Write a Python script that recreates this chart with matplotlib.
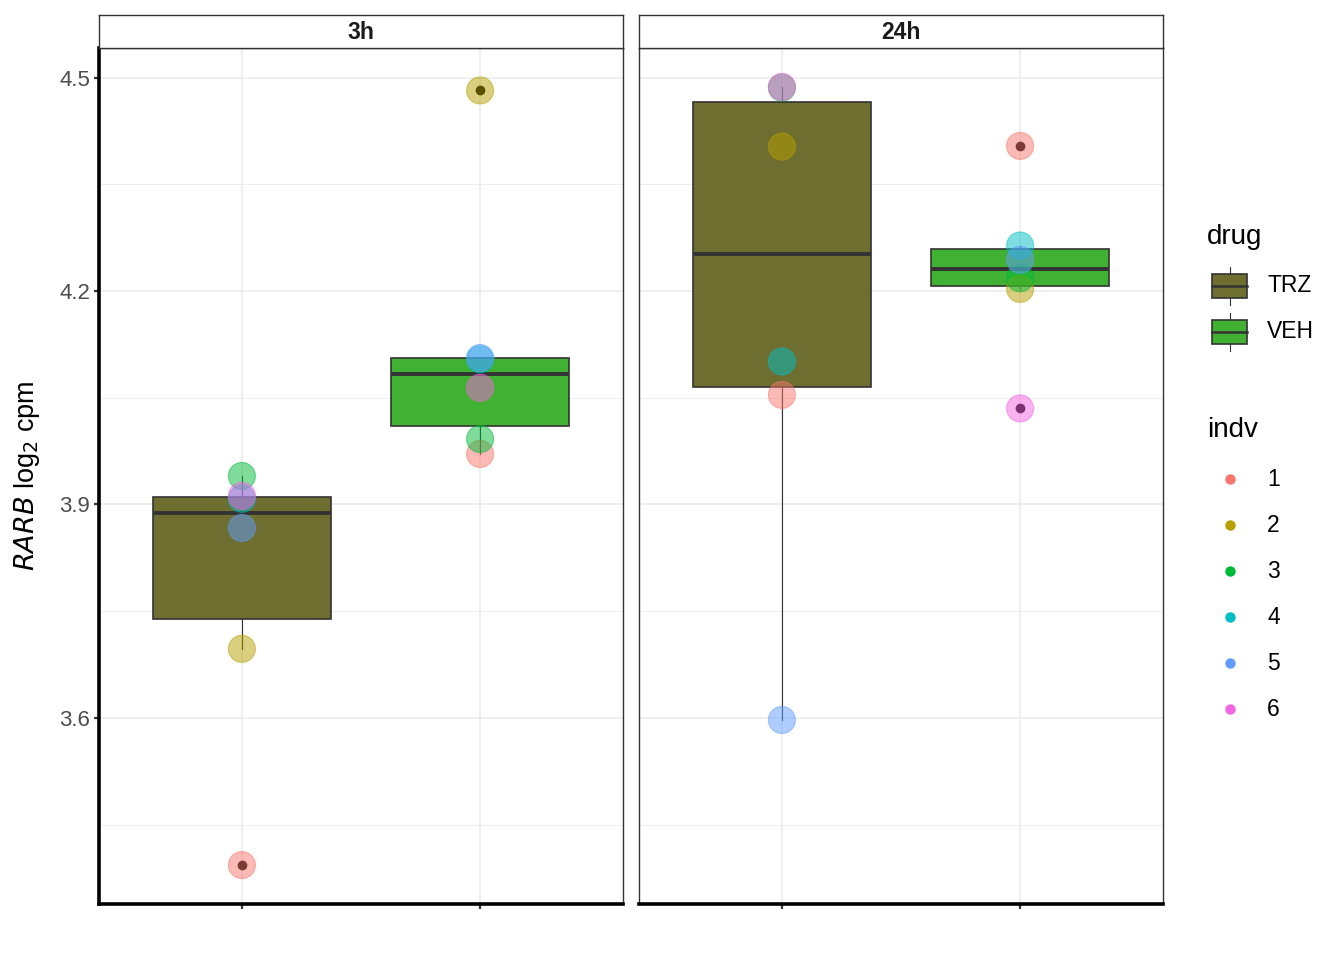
import numpy as np
import matplotlib
matplotlib.use("Agg")
import matplotlib.pyplot as plt
from matplotlib.patches import Rectangle

plt.rcParams["font.family"] = ["Liberation Sans", "DejaVu Sans"]

TIMES = ["3h", "24h"]
DRUGS = ["TRZ", "VEH"]
INDV = ["1", "2", "3", "4", "5", "6"]

# RARB log2 cpm per individual (1..6)
rarb_3h_trz = [3.393, 3.697, 3.940, 3.908, 3.867, 3.912]
rarb_3h_veh = [3.971, 4.482, 3.992, 4.104, 4.106, 4.064]
rarb_24h_trz = [4.054, 4.403, 4.486, 4.101, 3.597, 4.487]
rarb_24h_veh = [4.404, 4.203, 4.218, 4.264, 4.244, 4.035]

VALUES = {
    ("3h", "TRZ"): rarb_3h_trz,
    ("3h", "VEH"): rarb_3h_veh,
    ("24h", "TRZ"): rarb_24h_trz,
    ("24h", "VEH"): rarb_24h_veh,
}

DRUG_COLORS = {"TRZ": "#6E6E30", "VEH": "#40B132"}
INDV_COLORS = ["#F8766D", "#B79F00", "#00BA38", "#00BFC4", "#619CFF", "#F564E3"]
EDGE = "#333333"
GRID = "#EBEBEB"

W, H = 1344, 960
fig = plt.figure(figsize=(W / 100, H / 100), dpi=100)


def fx(px):
    return px / W


def fy(py):
    return 1 - py / H


allv = np.concatenate([np.asarray(v) for v in VALUES.values()])
lo, hi = allv.min(), allv.max()
pad = 0.05 * (hi - lo)

panels = [(99, 623), (639, 1163)]
top, bottom = 48, 904
for i, t in enumerate(TIMES):
    x0, x1 = panels[i]
    ax = fig.add_axes([fx(x0), fy(bottom), fx(x1 - x0), (bottom - top) / H])
    for j, d in enumerate(DRUGS):
        vals = VALUES[(t, d)]
        pos = j + 1
        ax.boxplot([vals], positions=[pos], widths=0.75, patch_artist=True,
                   showcaps=False, whis=1.5,
                   boxprops=dict(facecolor=DRUG_COLORS[d], edgecolor=EDGE, linewidth=1.2),
                   medianprops=dict(color=EDGE, linewidth=2.8),
                   whiskerprops=dict(color=EDGE, linewidth=0.8),
                   flierprops=dict(marker="o", markerfacecolor="black",
                                   markeredgecolor="black", markersize=6),
                   zorder=2)
        ax.scatter([pos] * len(vals), vals, s=380, c=INDV_COLORS,
                   edgecolors=INDV_COLORS, linewidths=0.8, alpha=0.5, zorder=3)

    ax.set_xlim(0.4, 2.6)
    ax.set_ylim(lo - pad, hi + pad)
    ax.set_xticks([1, 2])
    ax.set_xticklabels([])
    ax.set_yticks([3.6, 3.9, 4.2, 4.5])
    ax.set_yticks([3.45, 3.75, 4.05, 4.35], minor=True)
    ax.set_axisbelow(True)
    ax.grid(which="major", color=GRID, linewidth=1.1)
    ax.grid(which="minor", axis="y", color=GRID, linewidth=0.6)
    ax.tick_params(axis="both", which="major", length=3.5, width=1.6, color=EDGE,
                   labelsize=16, labelcolor="#4D4D4D", pad=3)
    ax.tick_params(axis="both", which="minor", length=0)
    for s in ("top", "right"):
        ax.spines[s].set_color(EDGE)
        ax.spines[s].set_linewidth(1.0)
    ax.spines["bottom"].set_color("black")
    ax.spines["bottom"].set_linewidth(2.6)
    if i == 0:
        ax.spines["left"].set_color("black")
        ax.spines["left"].set_linewidth(2.6)
        ax.yaxis.set_major_formatter(plt.FormatStrFormatter("%.1f"))
    else:
        ax.spines["left"].set_color(EDGE)
        ax.spines["left"].set_linewidth(1.0)
        ax.tick_params(axis="y", which="major", length=0, labelleft=False)

    # facet strip
    sax = fig.add_axes([fx(x0), fy(top), fx(x1 - x0), (top - 15) / H])
    sax.set_xticks([])
    sax.set_yticks([])
    for s in sax.spines.values():
        s.set_color(EDGE)
        s.set_linewidth(1.0)
    sax.text(0.5, 0.47, t, ha="center", va="center", fontsize=16.5,
             fontweight="bold", color="#1A1A1A", transform=sax.transAxes)

fig.text(fx(27), fy(476), r"$\it{RARB}$ log$_2$ cpm", rotation=90,
         ha="center", va="center", fontsize=19.5, color="black")

# legends
lax = fig.add_axes([fx(1190), fy(740), fx(154), (740 - 210) / H])
lax.set_xlim(1190, 1344)
lax.set_ylim(740, 210)
lax.axis("off")

lax.text(1207, 237, "drug", ha="left", va="center", fontsize=20)
for k, d in enumerate(DRUGS):
    cy = 286 + 46 * k
    lax.plot([1229.5, 1229.5], [cy - 19, cy + 19], color=EDGE, lw=0.8, zorder=1)
    lax.add_patch(Rectangle((1212, cy - 12), 35, 24, facecolor=DRUG_COLORS[d],
                            edgecolor=EDGE, lw=1.2, zorder=2))
    lax.plot([1212, 1247], [cy, cy], color=EDGE, lw=1.8, zorder=3)
    lax.text(1267, cy, d, ha="left", va="center", fontsize=16.5)

lax.text(1207, 430, "indv", ha="left", va="center", fontsize=20)
for k, lab in enumerate(INDV):
    cy = 479 + 46 * k
    lax.plot([1230], [cy], marker="o", markersize=7.5, color=INDV_COLORS[k],
             markeredgewidth=0)
    lax.text(1267, cy, lab, ha="left", va="center", fontsize=16.5)

fig.savefig("out.png", dpi=100, facecolor="white")
